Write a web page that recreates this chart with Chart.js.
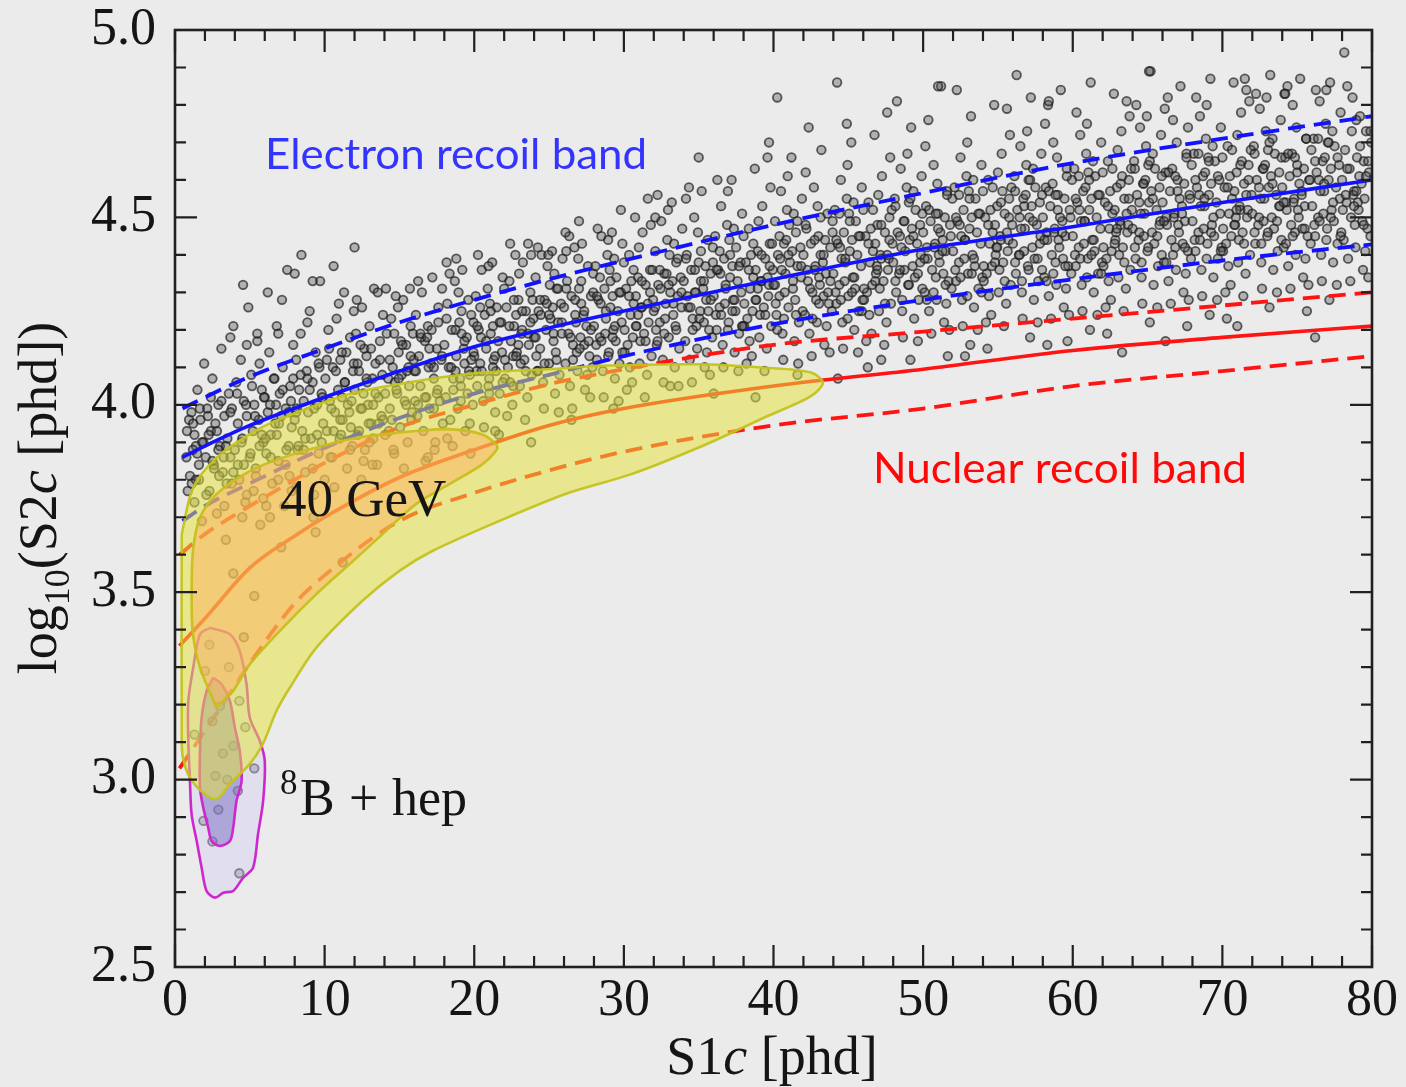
<!DOCTYPE html>
<html>
<head>
<meta charset="utf-8">
<title>S1c vs log10(S2c) - ER / NR bands</title>
<script src="https://cdn.jsdelivr.net/npm/chart.js@4.4.1/dist/chart.umd.min.js"></script>
<style>
    html, body { margin: 0; padding: 0; background: #ecebeb; }
    #wrap { position: relative; width: 1406px; height: 1087px; }
</style>
</head>
<body>
<div id="wrap"><canvas id="bandChart"></canvas></div>
<script>
/* ================================================================
   Bande ER / NR in log10(S2c) vs S1c
   ================================================================ */

/* --- Assi --- */
const xTicks = [0, 10, 20, 30, 40, 50, 60, 70, 80];
const yTicks = [2.5, 3.0, 3.5, 4.0, 4.5, 5.0];

/* --- Banda electron recoil (mediana e 10%/90%) --- */
const erS1 = [0.5, 2, 5, 10, 15, 20, 25, 30, 40, 50, 60, 70, 80];
const erMedian = [3.86, 3.89, 3.945, 4.02, 4.09, 4.155, 4.205, 4.25, 4.335, 4.415, 4.475, 4.54, 4.60];
const erUpper = [3.99, 4.02, 4.075, 4.15, 4.22, 4.28, 4.335, 4.385, 4.48, 4.565, 4.645, 4.71, 4.77];
const erLower = [3.69, 3.73, 3.79, 3.885, 3.965, 4.03, 4.08, 4.13, 4.215, 4.28, 4.335, 4.385, 4.428];

/* --- Banda nuclear recoil --- */
const nrS1 = [0.3, 2, 5, 8, 10, 15, 20, 25, 30, 40, 50, 60, 70, 80];
const nrMedian = [3.357, 3.43, 3.565, 3.65, 3.70, 3.806, 3.88, 3.945, 3.99, 4.05, 4.095, 4.145, 4.18, 4.21];
const nrUpper = [3.60, 3.655, 3.73, 3.80, 3.845, 3.94, 4.00, 4.055, 4.095, 4.16, 4.195, 4.23, 4.265, 4.30];
const nrLower = [3.03, 3.13, 3.31, 3.47, 3.545, 3.69, 3.765, 3.825, 3.875, 3.945, 3.99, 4.05, 4.09, 4.13];

/* --- Contorni segnale --- */
const wimpOuter = [[0.45,3.655],[1.2,3.778],[2.78,3.859],[5.0,3.922],[7.2,3.965],[11.67,4.029],[16.1,4.063],[20.5,4.086],[25.0,4.095],[28.3,4.104],[35.0,4.108],[39.4,4.099],[42.5,4.086],[43.3,4.059],[42.5,4.023],[39.4,3.966],[35.0,3.886],[30.5,3.815],[26.1,3.762],[21.67,3.69],[17.2,3.61],[15.0,3.557],[12.53,3.477],[9.45,3.352],[7.67,3.245],[6.78,3.183],[5.87,3.095],[5.0,3.042],[3.67,2.988],[2.78,2.948],[1.87,2.965],[1.0,3.005],[0.53,3.058],[0.45,3.103],[0.45,3.655]];
const wimpInner = [[2.78,3.192],[1.67,3.299],[1.2,3.388],[1.11,3.477],[1.2,3.61],[1.67,3.699],[2.78,3.762],[5.0,3.823],[7.2,3.859],[9.45,3.886],[11.67,3.908],[13.87,3.921],[16.1,3.93],[18.33,3.935],[20.53,3.921],[21.45,3.895],[21.53,3.882],[20.53,3.841],[18.33,3.788],[16.1,3.735],[13.87,3.655],[11.67,3.575],[9.45,3.495],[7.2,3.405],[5.0,3.308],[3.87,3.236],[2.78,3.192]];
const b8Outer = [[2.33,3.405],[3.67,3.388],[4.33,3.343],[4.78,3.255],[5.0,3.165],[5.67,3.103],[6.0,3.05],[5.89,2.943],[5.55,2.855],[5.22,2.765],[4.55,2.738],[3.89,2.703],[3.22,2.698],[2.67,2.685],[2.11,2.703],[1.78,2.765],[1.45,2.836],[1.11,2.907],[1.0,2.996],[0.89,3.103],[0.89,3.21],[1.22,3.299],[1.67,3.388],[2.33,3.405]];
const b8Inner = [[2.55,3.272],[3.11,3.255],[3.67,3.21],[4.0,3.139],[4.33,3.076],[4.45,2.996],[4.11,2.943],[3.89,2.872],[3.67,2.836],[3.0,2.823],[2.45,2.836],[2.22,2.872],[1.89,2.925],[1.67,2.978],[1.67,3.076],[1.78,3.165],[2.11,3.236],[2.55,3.272]];

/* --- Eventi ER (S1c, log10 S2c) --- */
const erEventsA = [
[0.8,3.93],[1.0,3.81],[1.1,3.98],[1.3,3.74],[1.4,3.89],[1.5,4.04],[1.6,3.84],[1.7,3.96],[1.8,3.69],[1.9,3.90],[1.2,3.88],[1.95,4.11],
[2.05,3.86],[2.15,3.99],[2.3,3.77],[2.4,3.93],[2.5,4.07],[2.6,3.84],[2.7,3.95],[2.8,3.71],[2.9,4.00],[3.0,3.89],[3.1,4.15],[3.2,3.82],[3.3,3.97],[3.4,3.64],[3.5,3.91],[3.6,4.03],[3.7,3.86],[3.8,3.99],[3.9,4.21],[3.45,3.79],[2.25,3.92],
[4.0,3.88],[4.1,4.06],[4.2,3.95],[4.3,3.80],[4.4,4.12],[4.5,3.91],[4.6,4.01],[4.7,3.74],[4.8,3.97],[4.9,4.26],[5.0,3.86],[5.1,4.08],[5.2,3.93],[5.3,4.00],[5.4,3.83],[5.5,4.17],[5.6,3.96],[5.7,3.68],[5.8,4.04],[5.9,3.90],[4.55,4.32],[5.25,3.77],[5.65,4.11],
[6.0,4.02],[6.1,3.87],[6.2,3.98],[6.3,4.14],[6.4,3.92],[6.5,3.79],[6.6,4.07],[6.7,3.95],[6.8,4.21],[6.9,3.85],[7.0,4.03],[7.1,3.97],[7.2,4.10],[7.3,3.73],[7.4,3.99],[7.5,4.36],[7.6,3.89],[7.7,4.05],[7.8,3.94],[7.9,4.16],[6.35,3.70],[7.15,4.28],[6.75,4.00],[7.65,3.81],
[8.0,3.96],[8.1,4.12],[8.2,3.88],[8.3,4.04],[8.4,4.19],[8.5,3.93],[8.6,4.01],[8.7,3.82],[8.8,4.09],[8.9,3.98],[9.0,4.25],[9.1,3.91],[9.2,4.06],[9.3,3.76],[9.4,4.14],[9.5,4.00],[9.6,3.87],[9.7,4.33],[9.8,4.03],[9.9,3.95],[8.45,4.40],[9.25,3.70],[8.85,4.22],[9.65,4.10],[8.15,3.99]
];
const erEventsB = [
[10.05,4.07],[10.15,3.93],[10.3,4.15],[10.35,4.01],[10.5,3.86],[10.55,4.10],[10.7,3.98],[10.8,4.23],[10.9,4.04],[11.0,3.91],[11.05,4.12],[11.2,3.96],[11.3,4.30],[11.35,4.06],[11.5,3.83],[11.55,4.00],[11.7,4.18],[11.75,3.94],[11.9,4.09],[11.95,4.25],[10.25,4.20],[10.65,3.78],[11.15,4.02],[11.45,4.14],[11.85,3.89],[10.95,4.27],
[12.0,4.04],[12.1,4.19],[12.2,3.92],[12.3,4.09],[12.4,3.99],[12.5,4.26],[12.6,4.03],[12.7,3.88],[12.8,4.13],[12.9,4.00],[13.0,4.21],[13.1,3.95],[13.2,4.07],[13.3,4.31],[13.4,4.11],[13.5,3.84],[13.6,4.02],[13.7,4.17],[13.8,3.97],[13.9,4.24],[12.15,4.28],[12.45,3.80],[12.85,4.06],[13.25,3.91],[13.55,4.30],[13.85,4.08],[12.65,4.15],
[15.95,4.12],[15.85,3.98],[15.75,4.21],[15.65,4.05],[15.55,3.90],[15.45,4.16],[15.35,4.01],[15.25,4.28],[15.15,4.08],[15.05,3.94],[14.95,4.14],[14.85,4.03],[14.75,4.29],[14.65,3.87],[14.55,4.10],[14.45,4.23],[14.35,3.99],[14.25,4.07],[14.15,4.19],[14.05,3.92],[15.7,4.31],[15.3,3.83],[14.9,4.26],[14.5,3.96],[14.1,4.31],[15.1,4.17],[14.7,4.06],[15.5,4.09],
[16.0,4.09],[16.1,4.24],[16.2,3.97],[16.3,4.13],[16.4,4.05],[16.5,4.30],[16.6,3.93],[16.7,4.17],[16.8,4.02],[16.9,4.21],[17.0,3.99],[17.1,4.11],[17.2,4.34],[17.3,4.07],[17.4,3.90],[17.5,4.15],[17.6,4.26],[17.7,4.01],[17.8,4.12],[17.9,3.95],[16.25,4.33],[16.75,3.85],[17.15,4.20],[17.55,4.04],[17.85,4.31],[16.45,4.18],[16.95,4.10],[17.35,3.88],[16.05,4.01],
[18.0,4.16],[18.1,4.02],[18.2,4.27],[18.3,4.10],[18.4,3.96],[18.5,4.20],[18.6,4.07],[18.7,4.33],[18.8,4.13],[18.9,3.99],[19.0,4.22],[19.1,4.05],[19.2,4.36],[19.3,4.15],[19.4,3.93],[19.5,4.18],[19.6,4.28],[19.7,4.08],[19.8,4.24],[19.9,4.00],[18.15,4.38],[18.55,3.89],[18.95,4.30],[19.35,4.11],[19.75,3.87],[18.35,4.35],[19.15,4.19],[19.55,4.03],[18.75,4.09],[19.95,4.14],
[20.0,4.13],[20.1,4.29],[20.2,4.05],[20.3,4.20],[20.4,4.11],[20.5,4.36],[20.6,4.01],[20.7,4.24],[20.8,4.15],[20.9,4.31],[21.0,4.07],[21.1,4.19],[21.2,4.38],[21.3,4.12],[21.4,3.98],[21.5,4.26],[21.6,4.17],[21.7,4.03],[21.8,4.22],[21.9,4.34],[20.25,4.40],[20.65,3.94],[21.05,4.27],[21.45,4.09],[21.85,4.14],[20.45,4.18],[20.95,4.37],[21.25,4.21],[21.65,3.92],[20.15,4.09],
[23.95,4.23],[23.85,4.08],[23.75,4.30],[23.65,4.16],[23.55,4.02],[23.45,4.25],[23.35,4.12],[23.25,4.38],[23.15,4.19],[23.05,4.05],[22.95,4.28],[22.85,4.14],[22.75,4.40],[22.65,4.21],[22.55,4.00],[22.45,4.17],[22.35,4.33],[22.25,4.10],[22.15,4.26],[22.05,4.07],[23.8,4.40],[23.4,3.96],[23.0,4.35],[22.6,4.13],[22.2,3.97],[23.6,4.43],[22.8,4.24],[22.4,4.06],[23.2,4.20],[22.0,4.31],[23.1,4.11],
[24.0,4.18],[24.1,4.34],[24.2,4.09],[24.3,4.25],[24.4,4.15],[24.5,4.40],[24.6,4.06],[24.7,4.28],[24.8,4.20],[24.9,4.37],[25.0,4.11],[25.1,4.23],[25.2,4.41],[25.3,4.17],[25.4,4.03],[25.5,4.31],[25.6,4.22],[25.7,4.08],[25.8,4.27],[25.9,4.39],[24.25,4.42],[24.65,3.99],[25.05,4.32],[25.45,4.14],[25.85,4.19],[24.45,4.24],[24.95,4.40],[25.25,4.26],[25.65,3.98],[24.15,4.13],[25.35,4.35],
[26.0,4.26],[26.1,4.11],[26.2,4.33],[26.3,4.19],[26.4,4.05],[26.5,4.29],[26.6,4.16],[26.7,4.42],[26.8,4.22],[26.9,4.09],[27.0,4.31],[27.1,4.18],[27.2,4.43],[27.3,4.24],[27.4,4.04],[27.5,4.21],[27.6,4.37],[27.7,4.13],[27.8,4.29],[27.9,4.10],[26.15,4.41],[26.55,3.99],[26.95,4.39],[27.35,4.16],[27.75,4.02],[26.35,4.45],[27.15,4.27],[27.55,4.08],[26.75,4.24],[27.95,4.35],[26.85,4.14],
[28.0,4.21],[28.1,4.37],[28.2,4.12],[28.3,4.28],[28.4,4.18],[28.5,4.45],[28.6,4.09],[28.7,4.31],[28.8,4.23],[28.9,4.40],[29.0,4.14],[29.1,4.26],[29.2,4.46],[29.3,4.20],[29.4,4.07],[29.5,4.34],[29.6,4.25],[29.7,4.11],[29.8,4.30],[29.9,4.43],[28.25,4.47],[28.65,4.02],[29.05,4.36],[29.45,4.17],[29.85,4.22],[28.45,4.27],[28.95,4.44],[29.25,4.29],[29.65,4.01],[28.15,4.16],[29.35,4.39],[28.75,4.19]
];
const erEventsC = [
[31.95,4.28],[31.85,4.13],[31.75,4.36],[31.65,4.22],[31.55,4.08],[31.45,4.32],[31.35,4.19],[31.25,4.46],[31.15,4.26],[31.05,4.11],[30.95,4.34],[30.85,4.21],[30.75,4.50],[30.65,4.27],[30.55,4.06],[30.45,4.24],[30.35,4.40],[30.25,4.16],[30.15,4.31],[30.05,4.14],[31.8,4.48],[31.4,4.02],[31.0,4.42],[30.6,4.18],[30.2,4.04],[31.6,4.55],[30.8,4.29],[30.4,4.10],[31.2,4.26],[30.0,4.38],[31.1,4.17],[30.5,4.33],
[32.0,4.25],[32.1,4.41],[32.2,4.16],[32.3,4.32],[32.4,4.22],[32.5,4.49],[32.6,4.12],[32.7,4.35],[32.8,4.27],[32.9,4.44],[33.0,4.18],[33.1,4.30],[33.2,4.54],[33.3,4.24],[33.4,4.10],[33.5,4.38],[33.6,4.29],[33.7,4.15],[33.8,4.34],[33.9,4.47],[32.25,4.56],[32.65,4.06],[33.05,4.40],[33.45,4.21],[33.85,4.26],[32.45,4.31],[32.95,4.52],[33.25,4.33],[33.65,4.05],[32.15,4.20],[33.35,4.43],[32.75,4.23],
[34.0,4.33],[34.1,4.17],[34.2,4.40],[34.3,4.26],[34.4,4.12],[34.5,4.36],[34.6,4.23],[34.7,4.50],[34.8,4.30],[34.9,4.15],[35.0,4.38],[35.1,4.25],[35.2,4.57],[35.3,4.31],[35.4,4.10],[35.5,4.28],[35.6,4.44],[35.7,4.20],[35.8,4.35],[35.9,4.18],[34.15,4.55],[34.55,4.06],[34.95,4.46],[35.35,4.22],[35.75,4.08],[34.35,4.58],[35.15,4.33],[35.55,4.14],[34.75,4.30],[35.95,4.42],[34.85,4.21],[35.45,4.37],[34.25,4.29],
[36.0,4.29],[36.1,4.45],[36.2,4.20],[36.3,4.36],[36.4,4.26],[36.5,4.53],[36.6,4.16],[36.7,4.39],[36.8,4.31],[36.9,4.48],[37.0,4.22],[37.1,4.34],[37.2,4.60],[37.3,4.28],[37.4,4.14],[37.5,4.42],[37.6,4.33],[37.7,4.19],[37.8,4.38],[37.9,4.51],[36.25,4.60],[36.65,4.10],[37.05,4.44],[37.45,4.25],[37.85,4.30],[36.45,4.35],[36.95,4.57],[37.25,4.37],[37.65,4.09],[36.15,4.24],[37.35,4.47],[36.75,4.27],[37.95,4.21],
[39.95,4.36],[39.85,4.21],[39.75,4.43],[39.65,4.29],[39.55,4.15],[39.45,4.39],[39.35,4.26],[39.25,4.53],[39.15,4.33],[39.05,4.18],[38.95,4.41],[38.85,4.28],[38.75,4.63],[38.65,4.34],[38.55,4.13],[38.45,4.31],[38.35,4.47],[38.25,4.23],[38.15,4.38],[38.05,4.21],[39.8,4.58],[39.4,4.09],[39.0,4.49],[38.6,4.25],[38.2,4.11],[39.6,4.66],[38.8,4.36],[38.4,4.17],[39.2,4.33],[38.0,4.45],[39.1,4.24],[38.5,4.40],[39.7,4.32],
[40.0,4.32],[40.1,4.49],[40.2,4.24],[40.3,4.40],[40.4,4.29],[40.5,4.57],[40.6,4.19],[40.7,4.43],[40.8,4.35],[40.9,4.52],[41.0,4.26],[41.1,4.38],[41.2,4.66],[41.3,4.31],[41.4,4.17],[41.5,4.46],[41.6,4.37],[41.7,4.22],[41.8,4.42],[41.9,4.55],[40.25,4.82],[40.65,4.12],[41.05,4.48],[41.45,4.28],[41.85,4.34],[40.45,4.39],[40.95,4.61],[41.25,4.41],[41.65,4.11],[40.15,4.27],[41.35,4.51],[40.75,4.30],[41.95,4.25],[40.55,4.36],
[42.0,4.40],[42.1,4.24],[42.2,4.47],[42.3,4.33],[42.4,4.19],[42.5,4.43],[42.6,4.30],[42.7,4.58],[42.8,4.37],[42.9,4.22],[43.0,4.45],[43.1,4.32],[43.2,4.68],[43.3,4.38],[43.4,4.16],[43.5,4.35],[43.6,4.51],[43.7,4.27],[43.8,4.42],[43.9,4.25],[42.15,4.62],[42.55,4.13],[42.95,4.53],[43.35,4.29],[43.75,4.14],[42.35,4.74],[43.15,4.40],[43.55,4.21],[42.75,4.36],[43.95,4.49],[42.85,4.28],[43.45,4.44],[42.25,4.36],[43.05,4.34],
[44.0,4.35],[44.1,4.52],[44.2,4.27],[44.3,4.43],[44.4,4.32],[44.5,4.60],[44.6,4.22],[44.7,4.46],[44.8,4.38],[44.9,4.55],[45.0,4.29],[45.1,4.41],[45.2,4.70],[45.3,4.34],[45.4,4.20],[45.5,4.49],[45.6,4.40],[45.7,4.25],[45.8,4.45],[45.9,4.58],[44.25,4.86],[44.65,4.15],[45.05,4.51],[45.45,4.31],[45.85,4.37],[44.45,4.42],[44.95,4.64],[45.25,4.44],[45.65,4.14],[44.15,4.30],[45.35,4.54],[44.75,4.33],[45.95,4.28],[44.55,4.39],
[47.95,4.43],[47.85,4.27],[47.75,4.50],[47.65,4.36],[47.55,4.22],[47.45,4.46],[47.35,4.33],[47.25,4.61],[47.15,4.40],[47.05,4.25],[46.95,4.48],[46.85,4.35],[46.75,4.72],[46.65,4.41],[46.55,4.19],[46.45,4.38],[46.35,4.54],[46.25,4.30],[46.15,4.45],[46.05,4.28],[47.8,4.66],[47.4,4.16],[47.0,4.56],[46.6,4.32],[46.2,4.17],[47.6,4.78],[46.8,4.43],[46.4,4.24],[47.2,4.39],[46.0,4.52],[47.1,4.31],[46.5,4.47],[47.7,4.39],[46.9,4.37],[46.3,4.10],
[48.0,4.38],[48.1,4.55],[48.2,4.30],[48.3,4.46],[48.4,4.35],[48.5,4.63],[48.6,4.25],[48.7,4.49],[48.8,4.41],[48.9,4.58],[49.0,4.32],[49.1,4.44],[49.2,4.74],[49.3,4.37],[49.4,4.23],[49.5,4.52],[49.6,4.43],[49.7,4.28],[49.8,4.48],[49.9,4.61],[48.25,4.81],[48.65,4.18],[49.05,4.54],[49.45,4.34],[49.85,4.40],[48.45,4.45],[48.95,4.67],[49.25,4.47],[49.65,4.17],[48.15,4.33],[49.35,4.57],[48.75,4.36],[49.95,4.31],[48.55,4.42],[49.15,4.12],
[50.0,4.46],[50.1,4.30],[50.2,4.53],[50.3,4.39],[50.4,4.25],[50.5,4.49],[50.6,4.36],[50.7,4.64],[50.8,4.43],[50.9,4.28],[51.0,4.51],[51.1,4.38],[51.2,4.85],[51.3,4.44],[51.4,4.22],[51.5,4.41],[51.6,4.57],[51.7,4.33],[51.8,4.48],[51.9,4.31],[50.15,4.69],[50.55,4.19],[50.95,4.59],[51.35,4.35],[51.75,4.20],[50.35,4.76],[51.15,4.46],[51.55,4.27],[50.75,4.42],[51.95,4.55],[50.85,4.34],[51.45,4.50],[50.25,4.42],[51.05,4.40],[51.65,4.13],
[52.0,4.41],[52.1,4.58],[52.2,4.33],[52.3,4.49],[52.4,4.38],[52.5,4.66],[52.6,4.28],[52.7,4.52],[52.8,4.44],[52.9,4.61],[53.0,4.35],[53.1,4.47],[53.2,4.77],[53.3,4.40],[53.4,4.26],[53.5,4.55],[53.6,4.46],[53.7,4.31],[53.8,4.51],[53.9,4.64],[52.25,4.84],[52.65,4.21],[53.05,4.57],[53.45,4.37],[53.85,4.43],[52.45,4.48],[52.95,4.70],[53.25,4.50],[53.65,4.20],[52.15,4.36],[53.35,4.60],[52.75,4.39],[53.95,4.34],[52.55,4.45],[53.15,4.16]
];
const erEventsD = [
[55.95,4.48],[55.85,4.32],[55.75,4.55],[55.65,4.41],[55.55,4.27],[55.45,4.51],[55.35,4.38],[55.25,4.67],[55.15,4.45],[55.05,4.30],[54.95,4.53],[54.85,4.40],[54.75,4.80],[54.65,4.46],[54.55,4.24],[54.45,4.43],[54.35,4.60],[54.25,4.35],[54.15,4.50],[54.05,4.33],[55.8,4.72],[55.4,4.21],[55.0,4.62],[54.6,4.37],[54.2,4.22],[55.6,4.79],[54.8,4.48],[54.4,4.29],[55.2,4.44],[54.0,4.57],[55.1,4.36],[54.5,4.52],[55.7,4.44],[54.9,4.42],[54.3,4.15],[55.3,4.57],
[56.0,4.43],[56.1,4.61],[56.2,4.35],[56.3,4.52],[56.4,4.40],[56.5,4.69],[56.6,4.30],[56.7,4.55],[56.8,4.47],[56.9,4.64],[57.0,4.37],[57.1,4.50],[57.2,4.82],[57.3,4.42],[57.4,4.28],[57.5,4.58],[57.6,4.48],[57.7,4.33],[57.8,4.54],[57.9,4.67],[56.25,4.88],[56.65,4.23],[57.05,4.60],[57.45,4.39],[57.85,4.45],[56.45,4.50],[56.95,4.73],[57.25,4.53],[57.65,4.22],[56.15,4.38],[57.35,4.63],[56.75,4.41],[57.95,4.36],[56.55,4.47],[57.15,4.18],[56.85,4.56],
[58.0,4.50],[58.1,4.34],[58.2,4.58],[58.3,4.44],[58.4,4.29],[58.5,4.53],[58.6,4.40],[58.7,4.70],[58.8,4.47],[58.9,4.32],[59.0,4.56],[59.1,4.42],[59.2,4.84],[59.3,4.49],[59.4,4.26],[59.5,4.45],[59.6,4.63],[59.7,4.37],[59.8,4.52],[59.9,4.35],[58.15,4.75],[58.55,4.23],[58.95,4.66],[59.35,4.39],[59.75,4.24],[58.35,4.80],[59.15,4.50],[59.55,4.31],[58.75,4.46],[59.95,4.60],[58.85,4.38],[59.45,4.55],[58.25,4.46],[59.05,4.44],[59.65,4.17],[58.65,4.59],
[60.0,4.45],[60.1,4.63],[60.2,4.37],[60.3,4.54],[60.4,4.42],[60.5,4.72],[60.6,4.32],[60.7,4.57],[60.8,4.49],[60.9,4.67],[61.0,4.39],[61.1,4.52],[61.2,4.86],[61.3,4.44],[61.4,4.30],[61.5,4.61],[61.6,4.50],[61.7,4.35],[61.8,4.56],[61.9,4.70],[60.25,4.78],[60.65,4.25],[61.05,4.62],[61.45,4.41],[61.85,4.47],[60.45,4.52],[60.95,4.75],[61.25,4.55],[61.65,4.24],[60.15,4.40],[61.35,4.65],[60.75,4.43],[61.95,4.38],[60.55,4.49],[61.15,4.20],[60.85,4.58],
[63.95,4.52],[63.85,4.36],[63.75,4.60],[63.65,4.46],[63.55,4.31],[63.45,4.55],[63.35,4.42],[63.25,4.73],[63.15,4.49],[63.05,4.34],[62.95,4.58],[62.85,4.44],[62.75,4.83],[62.65,4.51],[62.55,4.28],[62.45,4.47],[62.35,4.65],[62.25,4.39],[62.15,4.54],[62.05,4.37],[63.8,4.77],[63.4,4.25],[63.0,4.68],[62.6,4.41],[62.2,4.26],[63.6,4.81],[62.8,4.52],[62.4,4.33],[63.2,4.48],[62.0,4.62],[63.1,4.40],[62.5,4.57],[63.7,4.48],[62.9,4.46],[62.3,4.19],[63.3,4.61],
[64.0,4.47],[64.1,4.65],[64.2,4.39],[64.3,4.56],[64.4,4.44],[64.5,4.74],[64.6,4.34],[64.7,4.59],[64.8,4.51],[64.9,4.69],[65.0,4.41],[65.1,4.54],[65.2,4.89],[65.3,4.46],[65.4,4.32],[65.5,4.63],[65.6,4.52],[65.7,4.37],[65.8,4.58],[65.9,4.72],[64.25,4.80],[64.65,4.27],[65.05,4.64],[65.45,4.43],[65.85,4.49],[64.45,4.54],[64.95,4.77],[65.25,4.57],[65.65,4.26],[64.15,4.42],[65.35,4.67],[64.75,4.45],[65.95,4.40],[64.55,4.51],[65.15,4.22],[64.85,4.60],
[66.0,4.54],[66.1,4.38],[66.2,4.62],[66.3,4.48],[66.4,4.33],[66.5,4.57],[66.6,4.44],[66.7,4.76],[66.8,4.51],[66.9,4.36],[67.0,4.60],[67.1,4.46],[67.2,4.85],[67.3,4.53],[67.4,4.30],[67.5,4.49],[67.6,4.67],[67.7,4.41],[67.8,4.56],[67.9,4.39],[66.15,4.79],[66.55,4.27],[66.95,4.70],[67.35,4.43],[67.75,4.28],[66.35,4.82],[67.15,4.55],[67.55,4.35],[66.75,4.50],[67.95,4.64],[66.85,4.42],[67.45,4.59],[66.25,4.50],[67.05,4.48],[67.65,4.21],[66.65,4.63],
[68.0,4.49],[68.1,4.67],[68.2,4.41],[68.3,4.58],[68.4,4.46],[68.5,4.77],[68.6,4.36],[68.7,4.61],[68.8,4.53],[68.9,4.71],[69.0,4.43],[69.1,4.56],[69.2,4.87],[69.3,4.48],[69.4,4.34],[69.5,4.65],[69.6,4.54],[69.7,4.39],[69.8,4.60],[69.9,4.74],[68.25,4.82],[68.65,4.29],[69.05,4.66],[69.45,4.45],[69.85,4.51],[68.45,4.56],[68.95,4.80],[69.25,4.59],[69.65,4.28],[68.15,4.44],[69.35,4.69],[68.75,4.47],[69.95,4.42],[68.55,4.53],[69.15,4.24],[68.85,4.62],
[71.95,4.56],[71.85,4.40],[71.75,4.64],[71.65,4.50],[71.55,4.35],[71.45,4.59],[71.35,4.46],[71.25,4.78],[71.15,4.53],[71.05,4.38],[70.95,4.62],[70.85,4.48],[70.75,4.86],[70.65,4.55],[70.55,4.32],[70.45,4.51],[70.35,4.69],[70.25,4.43],[70.15,4.58],[70.05,4.41],[71.8,4.81],[71.4,4.29],[71.0,4.72],[70.6,4.45],[70.2,4.30],[71.6,4.84],[70.8,4.57],[70.4,4.37],[71.2,4.52],[70.0,4.66],[71.1,4.44],[70.5,4.61],[71.7,4.52],[70.9,4.50],[70.3,4.23],[71.3,4.65],
[72.0,4.51],[72.1,4.69],[72.2,4.43],[72.3,4.60],[72.4,4.48],[72.5,4.79],[72.6,4.38],[72.7,4.63],[72.8,4.55],[72.9,4.73],[73.0,4.45],[73.1,4.58],[73.2,4.88],[73.3,4.50],[73.4,4.36],[73.5,4.67],[73.6,4.56],[73.7,4.41],[73.8,4.62],[73.9,4.76],[72.25,4.83],[72.65,4.31],[73.05,4.68],[73.45,4.47],[73.85,4.53],[72.45,4.58],[72.95,4.82],[73.25,4.61],[73.65,4.30],[72.15,4.46],[73.35,4.71],[72.75,4.49],[73.95,4.44],[72.55,4.55],[73.15,4.26],[72.85,4.64],
[74.0,4.58],[74.1,4.42],[74.2,4.66],[74.3,4.52],[74.4,4.37],[74.5,4.61],[74.6,4.48],[74.7,4.80],[74.8,4.55],[74.9,4.40],[75.0,4.64],[75.1,4.50],[75.2,4.87],[75.3,4.57],[75.4,4.34],[75.5,4.53],[75.6,4.71],[75.7,4.45],[75.8,4.60],[75.9,4.43],[74.15,4.83],[74.55,4.31],[74.95,4.74],[75.35,4.47],[75.75,4.32],[74.35,4.85],[75.15,4.59],[75.55,4.39],[74.75,4.54],[75.95,4.68],[74.85,4.46],[75.45,4.63],[74.25,4.54],[75.05,4.52],[75.65,4.25],[74.65,4.67],
[76.0,4.53],[76.1,4.71],[76.2,4.45],[76.3,4.62],[76.4,4.50],[76.5,4.81],[76.6,4.40],[76.7,4.65],[76.8,4.57],[76.9,4.75],[77.0,4.47],[77.1,4.60],[77.2,4.86],[77.3,4.52],[77.4,4.38],[77.5,4.69],[77.6,4.58],[77.7,4.43],[77.8,4.64],[77.9,4.78],[76.25,4.84],[76.65,4.33],[77.05,4.70],[77.45,4.49],[77.85,4.55],[76.45,4.60],[76.95,4.84],[77.25,4.63],[77.65,4.32],[76.15,4.48],[77.35,4.73],[76.75,4.51],[77.95,4.46],[76.55,4.57],[77.15,4.28],[76.85,4.66],
[78.0,4.60],[78.1,4.44],[78.2,4.68],[78.3,4.54],[78.4,4.39],[78.5,4.63],[78.6,4.50],[78.7,4.82],[78.8,4.57],[78.9,4.42],[79.0,4.66],[79.1,4.52],[79.2,4.77],[79.3,4.59],[79.4,4.36],[79.5,4.55],[79.6,4.73],[79.7,4.47],[79.8,4.62],[79.9,4.45],[78.15,4.94],[78.55,4.33],[78.95,4.76],[79.35,4.49],[79.75,4.34],[78.35,4.85],[79.15,4.61],[79.55,4.41],[78.75,4.56],[79.95,4.70],[78.85,4.48],[79.45,4.65],[78.25,4.56],[79.05,4.54]
];
/* nucleo denso della banda, vicino alla mediana */
const erCore = [
[0.76,3.86],[0.94,3.96],[1.12,3.79],[1.3,3.92],[1.48,3.87],[1.66,3.99],[1.81,3.90],[1.21,3.95],[1.6,3.80],[0.85,3.77],
[2.2,3.97],[2.5,3.85],[2.8,3.93],[3.1,4.01],[3.4,3.89],[3.7,3.98],[3.9,3.82],[2.4,4.02],[3.25,3.86],[2.95,3.81],
[4.15,4.03],[4.45,3.90],[4.75,4.00],[5.05,3.87],[5.35,3.97],[5.65,3.89],[5.95,4.02],[4.6,3.84],[5.15,4.05],[5.8,3.92],
[6.05,3.91],[6.35,4.00],[6.65,4.07],[6.95,3.95],[7.2,4.04],[7.45,3.88],[7.75,4.01],[6.8,3.92],[7.6,3.98],[7.9,4.07],
[8.1,3.98],[8.4,4.08],[8.7,3.91],[9.0,4.04],[9.3,3.99],[9.6,4.11],[9.85,4.02],[8.85,4.07],[9.5,3.92],[8.25,3.89],
[10.15,4.12],[10.45,3.99],[10.75,4.09],[11.05,3.96],[11.35,4.06],[11.65,3.98],[11.95,4.11],[10.6,3.93],[11.15,4.14],[11.8,4.01],
[12.2,4.11],[12.5,3.99],[12.8,4.07],[13.1,4.15],[13.4,4.03],[13.7,4.12],[13.9,3.96],[12.4,4.16],[13.25,4.00],[12.95,3.95],
[14.05,4.03],[14.35,4.12],[14.65,4.19],[14.95,4.07],[15.2,4.16],[15.45,4.00],[15.75,4.13],[14.8,4.04],[15.6,4.10],[15.9,4.19],
[16.1,4.09],[16.4,4.19],[16.7,4.02],[17.0,4.15],[17.3,4.10],[17.6,4.22],[17.85,4.13],[16.85,4.18],[17.5,4.03],[16.25,4.00],
[18.15,4.23],[18.45,4.10],[18.75,4.20],[19.05,4.07],[19.35,4.17],[19.65,4.09],[19.95,4.22],[18.6,4.04],[19.15,4.25],[19.8,4.12],
[20.2,4.21],[20.5,4.09],[20.8,4.17],[21.1,4.25],[21.4,4.13],[21.7,4.22],[21.9,4.06],[20.4,4.26],[21.25,4.10],[20.95,4.05],
[22.05,4.12],[22.35,4.21],[22.65,4.28],[22.95,4.16],[23.2,4.25],[23.45,4.09],[23.75,4.22],[22.8,4.13],[23.6,4.19],[23.9,4.28],
[24.1,4.18],[24.4,4.28],[24.7,4.11],[25.0,4.24],[25.3,4.19],[25.6,4.31],[25.85,4.22],[24.85,4.27],[25.5,4.12],[24.25,4.09],
[26.15,4.31],[26.45,4.18],[26.75,4.28],[27.05,4.15],[27.35,4.25],[27.65,4.17],[27.95,4.30],[26.6,4.12],[27.15,4.33],[27.8,4.20],
[28.2,4.29],[28.5,4.17],[28.8,4.25],[29.1,4.33],[29.4,4.21],[29.7,4.30],[29.9,4.14],[28.4,4.34],[29.25,4.18],[28.95,4.13],
[30.05,4.20],[30.35,4.29],[30.65,4.36],[30.95,4.24],[31.2,4.33],[31.45,4.17],[31.75,4.30],[30.8,4.21],[31.6,4.27],[31.9,4.36],
[32.1,4.26],[32.4,4.36],[32.7,4.19],[33.0,4.32],[33.3,4.27],[33.6,4.39],[33.85,4.30],[32.85,4.35],[33.5,4.20],[32.25,4.17],
[34.15,4.39],[34.45,4.26],[34.75,4.36],[35.05,4.23],[35.35,4.33],[35.65,4.25],[35.95,4.38],[34.6,4.20],[35.15,4.41],[35.8,4.28],
[36.2,4.36],[36.5,4.24],[36.8,4.32],[37.1,4.40],[37.4,4.28],[37.7,4.37],[37.9,4.21],[36.4,4.41],[37.25,4.25],[36.95,4.20],
[38.05,4.27],[38.35,4.36],[38.65,4.43],[38.95,4.31],[39.2,4.40],[39.45,4.24],[39.75,4.37],[38.8,4.28],[39.6,4.34],[39.9,4.43],
[40.1,4.32],[40.4,4.45],[40.7,4.23],[41.0,4.40],[41.3,4.33],[41.6,4.49],[41.85,4.37],[40.85,4.44],[41.5,4.24],[40.25,4.20],
[42.15,4.48],[42.45,4.31],[42.75,4.44],[43.05,4.27],[43.35,4.40],[43.65,4.30],[43.95,4.46],[42.6,4.23],[43.15,4.50],[43.8,4.33],
[44.2,4.44],[44.5,4.28],[44.8,4.39],[45.1,4.49],[45.4,4.34],[45.7,4.45],[45.9,4.25],[44.4,4.51],[45.25,4.30],[44.95,4.23],
[46.05,4.31],[46.35,4.43],[46.65,4.52],[46.95,4.36],[47.2,4.48],[47.45,4.27],[47.75,4.44],[46.8,4.33],[47.6,4.40],[47.9,4.52],
[48.15,4.53],[48.45,4.36],[48.75,4.49],[49.05,4.32],[49.35,4.45],[49.65,4.35],[49.95,4.51],[48.6,4.28],[49.15,4.55],[49.8,4.38],
[50.1,4.39],[50.4,4.52],[50.7,4.30],[51.0,4.47],[51.3,4.41],[51.6,4.56],[51.85,4.45],[50.85,4.51],[51.5,4.32],[50.25,4.28],
[52.2,4.50],[52.5,4.34],[52.8,4.44],[53.1,4.55],[53.4,4.39],[53.7,4.51],[53.9,4.30],[52.4,4.56],[53.25,4.35],[52.95,4.29],
[54.05,4.37],[54.35,4.48],[54.65,4.58],[54.95,4.42],[55.2,4.54],[55.45,4.33],[55.75,4.50],[54.8,4.38],[55.6,4.46],[55.9,4.58],
[56.15,4.57],[56.45,4.40],[56.75,4.53],[57.05,4.36],[57.35,4.49],[57.65,4.39],[57.95,4.56],[56.6,4.33],[57.15,4.60],[57.8,4.43],
[58.1,4.44],[58.4,4.57],[58.7,4.35],[59.0,4.52],[59.3,4.46],[59.6,4.61],[59.85,4.50],[58.85,4.56],[59.5,4.37],[58.25,4.33],
[60.2,4.55],[60.5,4.39],[60.8,4.49],[61.1,4.60],[61.4,4.44],[61.7,4.56],[61.9,4.35],[60.4,4.61],[61.25,4.40],[60.95,4.34],
[62.05,4.42],[62.35,4.53],[62.65,4.63],[62.95,4.47],[63.2,4.59],[63.45,4.38],[63.75,4.55],[62.8,4.43],[63.6,4.51],[63.9,4.63],
[64.15,4.63],[64.45,4.46],[64.75,4.59],[65.05,4.42],[65.35,4.55],[65.65,4.45],[65.95,4.61],[64.6,4.38],[65.15,4.65],[65.8,4.48],
[66.1,4.49],[66.4,4.62],[66.7,4.40],[67.0,4.57],[67.3,4.51],[67.6,4.66],[67.85,4.55],[66.85,4.61],[67.5,4.42],[66.25,4.38],
[68.2,4.60],[68.5,4.44],[68.8,4.55],[69.1,4.65],[69.4,4.50],[69.7,4.61],[69.9,4.41],[68.4,4.67],[69.25,4.46],[68.95,4.39],
[70.05,4.47],[70.35,4.58],[70.65,4.68],[70.95,4.52],[71.2,4.64],[71.45,4.43],[71.75,4.60],[70.8,4.48],[71.6,4.56],[71.9,4.68],
[72.15,4.67],[72.45,4.50],[72.75,4.63],[73.05,4.46],[73.35,4.59],[73.65,4.49],[73.95,4.66],[72.6,4.43],[73.15,4.70],[73.8,4.53],
[74.1,4.54],[74.4,4.67],[74.7,4.45],[75.0,4.62],[75.3,4.56],[75.6,4.71],[75.85,4.60],[74.85,4.66],[75.5,4.47],[74.25,4.43],
[76.2,4.65],[76.5,4.49],[76.8,4.59],[77.1,4.70],[77.4,4.54],[77.7,4.66],[77.9,4.45],[76.4,4.71],[77.25,4.50],[76.95,4.44],
[78.05,4.52],[78.35,4.63],[78.65,4.73],[78.95,4.57],[79.2,4.69],[79.45,4.48],[79.75,4.65],[78.8,4.53],[79.6,4.61],[79.9,4.73]
];
/* eventi isolati sopra/sotto la banda */
const erOutliers = [
[3.7,4.18],[5.5,4.19],[6.9,4.19],[4.8,4.16],[6.2,4.30],[8.0,4.35],[9.2,4.33],[10.6,4.37],[12.0,4.42],[18.8,4.39],[22.4,4.43],[26.1,4.46],[27.0,4.49],[29.8,4.52],[32.1,4.50],
[51.0,4.85],[65.1,4.89],[58.4,4.81],[71.5,4.87],[35.0,4.66],[74.2,4.83],[67.7,4.74],[44.9,4.75],[39.7,4.70],
[13.2,3.84],[14.6,3.88],[16.9,3.86],[18.2,3.91],[19.7,3.95],[21.4,3.93],[23.8,3.90],[26.5,3.96],[29.3,3.99],[33.1,4.05],[36.0,4.03],[38.8,4.02],[41.6,4.08],[44.3,4.07],[47.2,4.12],[52.8,4.13],[58.3,4.16],[63.3,4.14],[66.2,4.17],[71.0,4.21],[76.2,4.18],
[3.9,3.55],[5.3,3.49],[7.1,3.62],[9.4,3.66],[11.2,3.58],[4.6,3.38],
[1.4,3.80],[2.1,3.76],[2.6,3.83],[3.3,3.73],[3.8,3.79],[4.2,3.84],[4.8,3.76],[5.4,3.81],[5.9,3.75],[6.4,3.86],[6.9,3.80],[7.4,3.84],[8.1,3.78],[8.6,3.88],[9.2,3.83],[9.8,3.90],[10.4,3.86],[11.1,3.92],[11.7,3.88],[12.3,3.93],[13.0,3.90],[13.6,3.95],[2.9,3.88],[4.5,3.70],[6.1,3.73],[7.8,3.77],[10.0,3.80],[12.6,3.85],[14.3,3.93],[15.8,3.96],[17.3,3.99],[19.1,4.01],[21.0,4.03],[22.6,4.05]
];
const b8Events = [[1.9,2.89],[2.5,2.835],[3.5,3.0],[4.3,3.21],[3.0,3.196],[2.5,3.156],[2.0,3.29],[4.7,3.14],[4.3,2.75],[2.9,2.92],[3.9,3.09],[3.2,3.07],[2.7,3.01],[4.2,2.97],[1.3,3.12],[3.6,3.30],[2.3,3.36],[5.3,3.03]];

/* --- Helpers --- */
const SERIF = "'Liberation Serif', 'Times New Roman', serif";
const toXY = pts => pts.map(([x, y]) => ({ x, y }));
const curve = (xs, ys) => xs.map((x, i) => ({ x, y: ys[i] }));

function bandLine(data, color, dashed) {
    return {
        data, showLine: true, borderColor: color, borderWidth: dashed ? 3.8 : 3.6,
        borderDash: dashed ? [17, 9] : [], pointRadius: 0, fill: false,
        cubicInterpolationMode: 'monotone', order: 5
    };
}
function contour(data, fillColor, lineColor, order) {
    return {
        data, showLine: true, borderColor: lineColor, borderWidth: 2.6, areaColor: fillColor,
        pointRadius: 0, fill: false, tension: 0.3, order
    };
}

/* --- Plugins --- */
const pageBackground = {
    id: 'pageBackground',
    beforeDraw(chart) {
        const { ctx, width, height } = chart;
        ctx.save();
        ctx.fillStyle = '#ecebeb';
        ctx.fillRect(0, 0, width, height);
        ctx.restore();
    }
};

// riempimento delle regioni chiuse (contorni) prima del bordo
const contourFill = {
    id: 'contourFill',
    beforeDatasetDraw(chart, args) {
        const ds = chart.data.datasets[args.index];
        if (!ds.areaColor) return;
        const { ctx, chartArea: a } = chart;
        const line = args.meta.dataset;
        line.updateControlPoints(a, 'x');
        ctx.save();
        ctx.beginPath();
        ctx.rect(a.left, a.top, a.right - a.left, a.bottom - a.top);
        ctx.clip();
        ctx.beginPath();
        line.path(ctx);
        ctx.closePath();
        ctx.fillStyle = ds.areaColor;
        ctx.fill();
        ctx.restore();
    }
};

// cornice e tacche interne su tutti e quattro i lati
const frameTicks = {
    id: 'frameTicks',
    afterDatasetsDraw(chart) {
        const { ctx, chartArea: a, scales: { x, y } } = chart;
        ctx.save();
        ctx.strokeStyle = '#202020';
        ctx.lineWidth = 2.2;
        ctx.beginPath();
        for (let i = 0; i <= 40; i++) {
            const px = x.getPixelForValue(i * 2);
            const len = i % 5 === 0 ? 22 : 11;
            ctx.moveTo(px, a.bottom); ctx.lineTo(px, a.bottom - len);
            ctx.moveTo(px, a.top); ctx.lineTo(px, a.top + len);
        }
        for (let i = 25; i <= 50; i++) {
            const py = y.getPixelForValue(i / 10);
            const len = i % 5 === 0 ? 22 : 11;
            ctx.moveTo(a.left, py); ctx.lineTo(a.left + len, py);
            ctx.moveTo(a.right, py); ctx.lineTo(a.right - len, py);
        }
        ctx.stroke();
        ctx.lineWidth = 2.6;
        ctx.strokeRect(a.left, a.top, a.right - a.left, a.bottom - a.top);
        ctx.restore();
    }
};

function drawParts(ctx, parts, x, y) {
    let cx = x;
    parts.forEach(p => {
        ctx.font = p.font;
        ctx.fillText(p.t, cx, y + (p.dy || 0));
        cx += ctx.measureText(p.t).width;
    });
    return cx - x;
}
function partsWidth(ctx, parts) {
    return parts.reduce((w, p) => { ctx.font = p.font; return w + ctx.measureText(p.t).width; }, 0);
}
function fitText(ctx, text, x, y, font, color, width) {
    ctx.font = font;
    const w = ctx.measureText(text).width;
    ctx.save();
    ctx.translate(x, y);
    ctx.scale(width / w, 1);
    ctx.fillStyle = color;
    ctx.fillText(text, 0, 0);
    ctx.restore();
}

// titoli degli assi ed etichette nel grafico
const labels = {
    id: 'labels',
    afterDraw(chart) {
        const { ctx } = chart;
        ctx.save();
        ctx.textBaseline = 'alphabetic';
        ctx.textAlign = 'left';
        ctx.fillStyle = '#151515';

        const big = `54px ${SERIF}`;
        const xTitle = [
            { t: 'S1', font: big },
            { t: 'c', font: `italic 54px ${SERIF}` },
            { t: ' [phd]', font: big }
        ];
        drawParts(ctx, xTitle, 772 - partsWidth(ctx, xTitle) / 2, 1074);

        const yTitle = [
            { t: 'log', font: big },
            { t: '10', font: `36px ${SERIF}`, dy: 13 },
            { t: '(S2', font: big },
            { t: 'c', font: `italic 54px ${SERIF}` },
            { t: ' [phd])', font: big }
        ];
        ctx.save();
        ctx.translate(56, 498 + partsWidth(ctx, yTitle) / 2);
        ctx.rotate(-Math.PI / 2);
        drawParts(ctx, yTitle, 0, 0);
        ctx.restore();

        fitText(ctx, 'Electron recoil band', 265, 169, '42px Lato', 'rgb(52,52,255)', 382);
        fitText(ctx, 'Nuclear recoil band', 873, 483, '42px Lato', 'rgb(255,8,8)', 374);

        ctx.fillStyle = '#151515';
        ctx.font = `53px ${SERIF}`;
        ctx.fillText('40 GeV', 280, 516);

        ctx.font = `35px ${SERIF}`;
        ctx.fillText('8', 280, 794);
        ctx.font = `52px ${SERIF}`;
        ctx.fillText('B', 300, 815);
        ctx.fillText('+', 349, 815);
        ctx.fillText('hep', 392, 815);
        ctx.restore();
    }
};

/* --- Grafico --- */
const allEvents = [...erEventsA, ...erEventsB, ...erEventsC, ...erEventsD, ...erCore, ...erOutliers, ...b8Events];

const xTickFont = { family: SERIF, size: 52, lineHeight: 1 };
const yTickFont = { family: SERIF, size: 52, lineHeight: 0.3 };

new Chart(document.getElementById('bandChart'), {
    type: 'scatter',
    data: {
        datasets: [
            contour(toXY(wimpInner), 'rgba(255,170,90,0.45)', 'rgba(200,190,30,0.95)', 1),
            contour(toXY(wimpOuter), 'rgba(228,228,60,0.52)', 'rgba(195,195,30,0.95)', 2),
            contour(toXY(b8Inner), 'rgba(120,110,195,0.5)', 'rgb(205,40,205)', 3),
            contour(toXY(b8Outer), 'rgba(210,205,242,0.4)', 'rgb(205,40,205)', 4),
            bandLine(curve(erS1, erMedian), 'rgb(18,18,255)', false),
            bandLine(curve(erS1, erUpper), 'rgb(18,18,255)', true),
            bandLine(curve(erS1, erLower), 'rgb(18,18,255)', true),
            bandLine(curve(nrS1, nrMedian), 'rgb(255,20,20)', false),
            bandLine(curve(nrS1, nrUpper), 'rgb(255,20,20)', true),
            bandLine(curve(nrS1, nrLower), 'rgb(255,20,20)', true),
            {
                data: toXY(allEvents), pointRadius: 4.3, borderWidth: 1.8,
                backgroundColor: 'rgba(85,85,85,0.38)', borderColor: 'rgba(25,25,25,0.68)', order: 9
            }
        ]
    },
    options: {
        responsive: true,
        maintainAspectRatio: false,
        animation: false,
        events: [],
        layout: { padding: { left: 0, top: 30, right: 28, bottom: 0 } },
        plugins: { legend: { display: false }, tooltip: { enabled: false } },
        scales: {
            x: {
                type: 'linear', min: 0, max: 80,
                grid: { display: false, drawTicks: false }, border: { display: false },
                afterBuildTicks: s => { s.ticks = xTicks.map(v => ({ value: v })); },
                afterFit: s => { s.height = 120; },
                ticks: { font: xTickFont, color: '#151515', padding: 8, maxRotation: 0, autoSkip: false, callback: v => String(v) }
            },
            y: {
                type: 'linear', min: 2.5, max: 5.0,
                grid: { display: false, drawTicks: false }, border: { display: false },
                afterBuildTicks: s => { s.ticks = yTicks.map(v => ({ value: v })); },
                afterFit: s => { s.width = 175; },
                ticks: { font: yTickFont, color: '#151515', padding: 19, autoSkip: false, callback: v => Number(v).toFixed(1) }
            }
        }
    },
    plugins: [pageBackground, contourFill, frameTicks, labels]
});
</script>
</body>
</html>
